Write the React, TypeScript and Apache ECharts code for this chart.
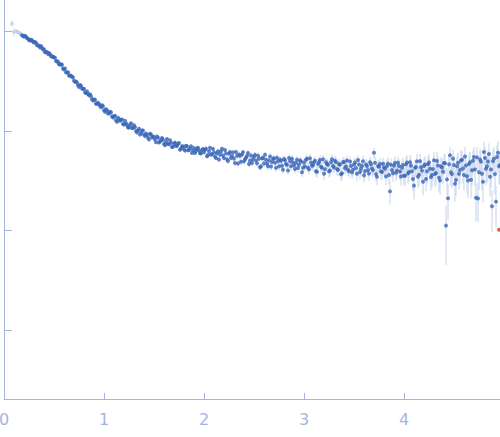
import React, { useEffect, useRef } from "react";
import * as echarts from "echarts";

// [q (nm^-1), I(q), relative error]
const excludedPoints: number[][] = [
  [0.08, 1.19, 0.07], [0.1, 0.98, 0.1], [0.12, 1.0, 0.02], [0.13, 0.99, 0.015],
  [0.14, 0.975, 0.01], [0.15, 0.965, 0.01], [0.16, 0.95, 0.01], [0.17, 0.93, 0.008],
];

const lowQ: number[][] = [
  [0.18, 0.912, 0.005], [0.2, 0.882, 0.005], [0.22, 0.88, 0.005], [0.24, 0.841, 0.005],
  [0.26, 0.806, 0.005], [0.28, 0.812, 0.005], [0.3, 0.768, 0.006], [0.32, 0.765, 0.006],
  [0.34, 0.724, 0.006], [0.36, 0.686, 0.006], [0.38, 0.683, 0.006], [0.4, 0.659, 0.007],
  [0.42, 0.618, 0.007], [0.44, 0.591, 0.007], [0.46, 0.588, 0.007], [0.48, 0.562, 0.008],
  [0.5, 0.548, 0.008], [0.52, 0.503, 0.008], [0.54, 0.495, 0.008], [0.56, 0.463, 0.009],
  [0.58, 0.46, 0.009], [0.6, 0.413, 0.009], [0.62, 0.386, 0.01], [0.64, 0.388, 0.01],
  [0.66, 0.359, 0.01], [0.68, 0.349, 0.011], [0.7, 0.318, 0.011], [0.72, 0.312, 0.011],
  [0.74, 0.286, 0.012], [0.76, 0.288, 0.012], [0.78, 0.266, 0.012], [0.8, 0.265, 0.013],
  [0.82, 0.24, 0.013], [0.84, 0.234, 0.013], [0.86, 0.233, 0.014], [0.88, 0.208, 0.014],
  [0.9, 0.206, 0.014], [0.92, 0.187, 0.015], [0.94, 0.192, 0.015], [0.96, 0.178, 0.015],
  [0.98, 0.181, 0.016], [1.0, 0.161, 0.016],
];

const lowQb: number[][] = [
  [0.19, 0.892, 0.005], [0.21, 0.899, 0.005], [0.23, 0.856, 0.005], [0.25, 0.815, 0.005],
  [0.27, 0.821, 0.005], [0.29, 0.782, 0.005], [0.31, 0.778, 0.006], [0.33, 0.722, 0.006],
  [0.35, 0.712, 0.006], [0.37, 0.709, 0.006], [0.39, 0.654, 0.006], [0.41, 0.616, 0.007],
  [0.43, 0.619, 0.007], [0.45, 0.604, 0.007], [0.47, 0.561, 0.007], [0.49, 0.549, 0.008],
  [0.51, 0.541, 0.008], [0.53, 0.496, 0.008], [0.55, 0.465, 0.008], [0.57, 0.466, 0.009],
  [0.59, 0.423, 0.009], [0.61, 0.423, 0.009], [0.63, 0.385, 0.01], [0.65, 0.358, 0.01],
  [0.67, 0.356, 0.01], [0.69, 0.344, 0.011], [0.71, 0.31, 0.011], [0.73, 0.305, 0.011],
  [0.75, 0.276, 0.012], [0.77, 0.283, 0.012], [0.79, 0.263, 0.012], [0.81, 0.243, 0.013],
  [0.83, 0.249, 0.013], [0.85, 0.227, 0.013], [0.87, 0.223, 0.014], [0.89, 0.201, 0.014],
  [0.91, 0.205, 0.014], [0.93, 0.187, 0.015], [0.95, 0.186, 0.015], [0.97, 0.172, 0.015],
  [0.99, 0.177, 0.016],
];

const midQ1: number[][] = [
  [1.02, 0.165, 0.018], [1.04, 0.149, 0.018], [1.06, 0.155, 0.019], [1.08, 0.14, 0.019],
  [1.1, 0.139, 0.02], [1.12, 0.128, 0.02], [1.14, 0.135, 0.021], [1.16, 0.126, 0.021],
  [1.18, 0.13, 0.022], [1.2, 0.116, 0.022], [1.22, 0.119, 0.023], [1.24, 0.108, 0.024],
  [1.26, 0.115, 0.024], [1.28, 0.107, 0.025], [1.3, 0.114, 0.025], [1.32, 0.0998, 0.026],
  [1.34, 0.101, 0.026], [1.36, 0.0916, 0.027], [1.38, 0.101, 0.027], [1.4, 0.0914, 0.028],
  [1.42, 0.0942, 0.028], [1.44, 0.0853, 0.029], [1.46, 0.0935, 0.029], [1.48, 0.0857, 0.03],
  [1.5, 0.0868, 0.03], [1.52, 0.0769, 0.031], [1.54, 0.0854, 0.031], [1.56, 0.0782, 0.032],
  [1.58, 0.0846, 0.032], [1.6, 0.0737, 0.033], [1.62, 0.0774, 0.034], [1.64, 0.074, 0.034],
  [1.66, 0.0805, 0.035], [1.68, 0.069, 0.035], [1.7, 0.0746, 0.036], [1.72, 0.0707, 0.037],
  [1.74, 0.074, 0.037], [1.76, 0.0646, 0.038], [1.78, 0.07, 0.039], [1.8, 0.0656, 0.039],
  [1.82, 0.071, 0.04], [1.84, 0.0637, 0.041], [1.86, 0.0665, 0.041], [1.88, 0.06, 0.042],
  [1.9, 0.0672, 0.043], [1.92, 0.0627, 0.043], [1.94, 0.0678, 0.044], [1.96, 0.0597, 0.045],
  [1.98, 0.0642, 0.045], [2.0, 0.0611, 0.046],
];

const midQ1b: number[][] = [
  [1.01, 0.155, 0.018], [1.03, 0.161, 0.018], [1.05, 0.15, 0.019], [1.07, 0.154, 0.019],
  [1.09, 0.136, 0.02], [1.11, 0.142, 0.02], [1.13, 0.123, 0.021], [1.15, 0.13, 0.021],
  [1.17, 0.129, 0.022], [1.19, 0.117, 0.022], [1.21, 0.126, 0.023], [1.23, 0.114, 0.024],
  [1.25, 0.108, 0.024], [1.27, 0.119, 0.025], [1.29, 0.107, 0.025], [1.31, 0.109, 0.026],
  [1.33, 0.0964, 0.026], [1.35, 0.105, 0.027], [1.37, 0.0953, 0.027], [1.39, 0.101, 0.028],
  [1.41, 0.0887, 0.028], [1.43, 0.0915, 0.029], [1.45, 0.0819, 0.029], [1.47, 0.0918, 0.03],
  [1.49, 0.0875, 0.03], [1.51, 0.0818, 0.031], [1.53, 0.0878, 0.031], [1.55, 0.0764, 0.032],
  [1.57, 0.0806, 0.032], [1.59, 0.0814, 0.033], [1.61, 0.0717, 0.034], [1.63, 0.0828, 0.034],
  [1.65, 0.0735, 0.035], [1.67, 0.0761, 0.035], [1.69, 0.0693, 0.036], [1.71, 0.0762, 0.037],
  [1.73, 0.0703, 0.037], [1.75, 0.0756, 0.038], [1.77, 0.0662, 0.039], [1.79, 0.0695, 0.039],
  [1.81, 0.0633, 0.04], [1.83, 0.07, 0.041], [1.85, 0.0641, 0.041], [1.87, 0.0701, 0.042],
  [1.89, 0.0636, 0.043], [1.91, 0.0598, 0.043], [1.93, 0.0662, 0.044], [1.95, 0.0637, 0.045],
  [1.97, 0.0594, 0.045], [1.99, 0.0657, 0.046],
];

const midQ2: number[][] = [
  [2.02, 0.0662, 0.05], [2.04, 0.0572, 0.052], [2.06, 0.0676, 0.05], [2.08, 0.0582, 0.054],
  [2.1, 0.0608, 0.053], [2.12, 0.0533, 0.058], [2.14, 0.0623, 0.055], [2.16, 0.0577, 0.057],
  [2.18, 0.066, 0.054], [2.2, 0.0535, 0.06], [2.22, 0.0594, 0.058], [2.24, 0.0499, 0.064],
  [2.26, 0.0614, 0.059], [2.28, 0.056, 0.062], [2.3, 0.0528, 0.065], [2.32, 0.0613, 0.061],
  [2.34, 0.0471, 0.07], [2.36, 0.0561, 0.065], [2.38, 0.0579, 0.064], [2.4, 0.0494, 0.07],
  [2.42, 0.0538, 0.068], [2.44, 0.0599, 0.065], [2.46, 0.0505, 0.072], [2.48, 0.0476, 0.075],
  [2.5, 0.055, 0.07], [2.52, 0.0505, 0.075], [2.54, 0.0563, 0.071], [2.56, 0.0432, 0.082],
  [2.58, 0.053, 0.075], [2.6, 0.0471, 0.08], [2.62, 0.0514, 0.078], [2.64, 0.0442, 0.085],
  [2.66, 0.0553, 0.077], [2.68, 0.0487, 0.082], [2.7, 0.0529, 0.08], [2.72, 0.0425, 0.09],
  [2.74, 0.0496, 0.085], [2.76, 0.0512, 0.084], [2.78, 0.0447, 0.09], [2.8, 0.0522, 0.085],
  [2.82, 0.0464, 0.09], [2.84, 0.0401, 0.098], [2.86, 0.0494, 0.09], [2.88, 0.0526, 0.088],
  [2.9, 0.0449, 0.095], [2.92, 0.0477, 0.093], [2.94, 0.0424, 0.1], [2.96, 0.0503, 0.092],
  [2.98, 0.0385, 0.105], [3.0, 0.0482, 0.095],
];

const midQ2b: number[][] = [
  [2.01, 0.0645, 0.05], [2.03, 0.0556, 0.053], [2.05, 0.0624, 0.051], [2.07, 0.0578, 0.054],
  [2.09, 0.0658, 0.052], [2.11, 0.0552, 0.057], [2.13, 0.0596, 0.055], [2.15, 0.0515, 0.06],
  [2.17, 0.0622, 0.056], [2.19, 0.0565, 0.059], [2.21, 0.0642, 0.056], [2.23, 0.0518, 0.063],
  [2.25, 0.0588, 0.06], [2.27, 0.0533, 0.063], [2.29, 0.0608, 0.06], [2.31, 0.0476, 0.069],
  [2.33, 0.0561, 0.064], [2.35, 0.0579, 0.064], [2.37, 0.0489, 0.07], [2.39, 0.0609, 0.064],
  [2.41, 0.0519, 0.07], [2.43, 0.0558, 0.068], [2.45, 0.0465, 0.076], [2.47, 0.0566, 0.07],
  [2.49, 0.0516, 0.074], [2.51, 0.0574, 0.071], [2.53, 0.0472, 0.078], [2.55, 0.0525, 0.075],
  [2.57, 0.044, 0.083], [2.59, 0.0533, 0.076], [2.61, 0.0575, 0.074], [2.63, 0.0468, 0.082],
  [2.65, 0.0505, 0.08], [2.67, 0.0439, 0.087], [2.69, 0.0525, 0.081], [2.71, 0.0479, 0.085],
  [2.73, 0.0536, 0.081], [2.75, 0.044, 0.09], [2.77, 0.0501, 0.086], [2.79, 0.0408, 0.096],
  [2.81, 0.0507, 0.087], [2.83, 0.0458, 0.092], [2.85, 0.0533, 0.087], [2.87, 0.0441, 0.096],
  [2.89, 0.0482, 0.093], [2.91, 0.0415, 0.1], [2.93, 0.0513, 0.092], [2.95, 0.0456, 0.097],
  [2.97, 0.0492, 0.095], [2.99, 0.0426, 0.102],
];

const highQ1: number[][] = [
  [3.02, 0.0512, 0.1], [3.04, 0.0427, 0.11], [3.06, 0.0531, 0.1], [3.08, 0.0447, 0.11],
  [3.1, 0.0483, 0.105], [3.12, 0.0394, 0.12], [3.14, 0.0466, 0.11], [3.16, 0.0511, 0.105],
  [3.18, 0.0427, 0.115], [3.2, 0.0371, 0.13], [3.22, 0.0484, 0.11], [3.24, 0.0456, 0.115],
  [3.26, 0.04, 0.125], [3.28, 0.052, 0.11], [3.3, 0.0429, 0.12], [3.32, 0.0486, 0.115],
  [3.34, 0.0404, 0.13], [3.36, 0.0456, 0.12], [3.38, 0.0376, 0.14], [3.4, 0.0488, 0.12],
  [3.42, 0.0439, 0.13], [3.44, 0.0407, 0.135], [3.46, 0.0493, 0.12], [3.48, 0.0383, 0.145],
  [3.5, 0.046, 0.13], [3.52, 0.0423, 0.14], [3.54, 0.0509, 0.125], [3.56, 0.0387, 0.15],
  [3.58, 0.0445, 0.14], [3.6, 0.0359, 0.16], [3.62, 0.046, 0.14], [3.64, 0.0405, 0.15],
  [3.66, 0.0485, 0.14], [3.68, 0.042, 0.15], [3.7, 0.0602, 0.12], [3.72, 0.0368, 0.165],
  [3.74, 0.0443, 0.15], [3.76, 0.0464, 0.15], [3.78, 0.0387, 0.165], [3.8, 0.0428, 0.16],
  [3.82, 0.0349, 0.18], [3.84, 0.0469, 0.155], [3.86, 0.0247, 0.26], [3.88, 0.0405, 0.165],
  [3.9, 0.0446, 0.16], [3.92, 0.0379, 0.175], [3.94, 0.0478, 0.16], [3.96, 0.039, 0.175],
  [3.98, 0.0426, 0.17], [4.0, 0.0355, 0.19],
];

const highQ1b: number[][] = [
  [3.01, 0.0438, 0.105], [3.03, 0.0524, 0.1], [3.05, 0.0412, 0.115], [3.07, 0.048, 0.105],
  [3.09, 0.0451, 0.11], [3.11, 0.05, 0.105], [3.13, 0.0389, 0.125], [3.15, 0.0483, 0.11],
  [3.17, 0.0437, 0.12], [3.19, 0.0518, 0.11], [3.21, 0.0411, 0.125], [3.23, 0.0465, 0.12],
  [3.25, 0.0392, 0.13], [3.27, 0.0485, 0.12], [3.29, 0.0443, 0.125], [3.31, 0.05, 0.115],
  [3.33, 0.0414, 0.13], [3.35, 0.0466, 0.125], [3.37, 0.0367, 0.145], [3.39, 0.0485, 0.125],
  [3.41, 0.0422, 0.135], [3.43, 0.0504, 0.125], [3.45, 0.0393, 0.145], [3.47, 0.0445, 0.135],
  [3.49, 0.0408, 0.145], [3.51, 0.0481, 0.135], [3.53, 0.0372, 0.155], [3.55, 0.046, 0.14],
  [3.57, 0.0416, 0.15], [3.59, 0.0496, 0.14], [3.61, 0.0393, 0.16], [3.63, 0.0443, 0.15],
  [3.65, 0.0374, 0.165], [3.67, 0.0463, 0.15], [3.69, 0.0403, 0.16], [3.71, 0.0478, 0.15],
  [3.73, 0.0347, 0.175], [3.75, 0.0435, 0.16], [3.77, 0.0392, 0.17], [3.79, 0.0467, 0.155],
  [3.81, 0.0416, 0.165], [3.83, 0.0444, 0.16], [3.85, 0.036, 0.18], [3.87, 0.0456, 0.16],
  [3.89, 0.0375, 0.18], [3.91, 0.0475, 0.165], [3.93, 0.0399, 0.175], [3.95, 0.0444, 0.17],
  [3.97, 0.0349, 0.19], [3.99, 0.0455, 0.17],
];

const highQ2: number[][] = [
  [4.02, 0.0461, 0.18], [4.04, 0.0374, 0.21], [4.06, 0.0485, 0.18], [4.08, 0.0394, 0.2],
  [4.1, 0.0282, 0.27], [4.12, 0.0434, 0.2], [4.14, 0.0347, 0.23], [4.16, 0.0497, 0.19],
  [4.18, 0.0399, 0.22], [4.2, 0.0443, 0.21], [4.22, 0.0329, 0.25], [4.24, 0.0462, 0.21],
  [4.26, 0.0417, 0.23], [4.28, 0.036, 0.25], [4.3, 0.0506, 0.21], [4.32, 0.0378, 0.25],
  [4.34, 0.0448, 0.23], [4.36, 0.0318, 0.28], [4.38, 0.0429, 0.24], [4.4, 0.0476, 0.23],
  [4.42, 0.0112, 0.6], [4.44, 0.0211, 0.4], [4.46, 0.057, 0.2], [4.48, 0.0368, 0.27],
  [4.5, 0.0454, 0.25], [4.52, 0.0321, 0.3], [4.54, 0.0479, 0.25], [4.56, 0.0405, 0.28],
  [4.58, 0.0514, 0.24], [4.6, 0.0361, 0.3], [4.62, 0.0449, 0.27], [4.64, 0.0317, 0.33],
  [4.66, 0.0484, 0.27], [4.68, 0.0403, 0.3], [4.7, 0.0546, 0.26], [4.72, 0.0213, 0.42],
  [4.74, 0.021, 0.42], [4.76, 0.0516, 0.28], [4.78, 0.0371, 0.33], [4.8, 0.0614, 0.26],
  [4.82, 0.0417, 0.32], [4.84, 0.0493, 0.3], [4.86, 0.0346, 0.36], [4.88, 0.0175, 0.45],
  [4.9, 0.0526, 0.3], [4.92, 0.0195, 0.45], [4.94, 0.0602, 0.3], [4.96, 0.0453, 0.35],
];

const highQ2b: number[][] = [
  [4.01, 0.0355, 0.21], [4.03, 0.0482, 0.18], [4.05, 0.0386, 0.2], [4.07, 0.0447, 0.19],
  [4.09, 0.0328, 0.24], [4.11, 0.0425, 0.2], [4.13, 0.0494, 0.19], [4.15, 0.0363, 0.23],
  [4.17, 0.0431, 0.21], [4.19, 0.0309, 0.27], [4.21, 0.0459, 0.21], [4.23, 0.0393, 0.24],
  [4.25, 0.0482, 0.21], [4.27, 0.0344, 0.27], [4.29, 0.0413, 0.24], [4.31, 0.0369, 0.26],
  [4.33, 0.0499, 0.22], [4.35, 0.0338, 0.28], [4.37, 0.0441, 0.24], [4.39, 0.0389, 0.26],
  [4.41, 0.0473, 0.24], [4.43, 0.0326, 0.3], [4.45, 0.0461, 0.25], [4.47, 0.0384, 0.28],
  [4.49, 0.0524, 0.24], [4.51, 0.0295, 0.34], [4.53, 0.044, 0.27], [4.55, 0.037, 0.3],
  [4.57, 0.0504, 0.26], [4.59, 0.042, 0.29], [4.61, 0.0552, 0.25], [4.63, 0.0351, 0.33],
  [4.65, 0.0465, 0.28], [4.67, 0.0323, 0.35], [4.69, 0.05, 0.28], [4.71, 0.041, 0.31],
  [4.73, 0.0542, 0.27], [4.75, 0.0384, 0.33], [4.77, 0.0491, 0.29], [4.79, 0.0308, 0.38],
  [4.81, 0.0534, 0.29], [4.83, 0.0441, 0.32], [4.85, 0.0587, 0.28], [4.87, 0.0409, 0.34],
  [4.89, 0.0496, 0.31], [4.91, 0.0368, 0.37], [4.93, 0.0547, 0.31], [4.95, 0.0442, 0.35],
];

const outlierPoints: number[][] = [[4.95, 0.0102, 0.0]];

const xTickValues = [0, 1, 2, 3, 4];

const AXIS_COLOR = "#a3b6e0";

function toErrorBars(points: number[][]) {
  return points.map((p) => [p[0], p[1] * (1 - p[2]), p[1] * (1 + p[2])]);
}

function errorSeries(points: number[][], color: string) {
  return {
    type: "custom",
    silent: true,
    z: 1,
    renderItem: (params: any, api: any) => {
      const x = api.value(0);
      const lo = api.value(1);
      const hi = api.value(2);
      const p1 = api.coord([x, hi]);
      const p2 = api.coord([x, lo]);
      return {
        type: "line",
        shape: { x1: p1[0], y1: p1[1], x2: p2[0], y2: p2[1] },
        style: { stroke: color, lineWidth: 1 },
      };
    },
    encode: { x: 0, y: [1, 2] },
    data: toErrorBars(points),
  };
}

export default function App() {
  const ref = useRef<HTMLDivElement>(null);
  useEffect(() => {
    if (!ref.current) return;
    const chart = echarts.init(ref.current, undefined, { renderer: "svg" });
    const mainPoints = [
      ...lowQ, ...lowQb, ...midQ1, ...midQ1b, ...midQ2, ...midQ2b,
      ...highQ1, ...highQ1b, ...highQ2, ...highQ2b,
    ].sort((a, b) => a[0] - b[0]);
    chart.setOption({
      animation: false,
      grid: {
        left: 4,
        right: 0,
        top: -68.5,
        bottom: 38,
        containLabel: false,
        outerBoundsMode: "none",
      },
      xAxis: {
        type: "value",
        min: 0,
        max: 4.96,
        interval: 1,
        axisLine: { show: true, lineStyle: { color: AXIS_COLOR, width: 1 } },
        axisTick: {
          show: true,
          inside: true,
          length: 6,
          customValues: xTickValues,
          lineStyle: { color: AXIS_COLOR },
        },
        axisLabel: {
          show: true,
          customValues: xTickValues,
          color: AXIS_COLOR,
          fontFamily: "DejaVu Sans",
          fontSize: 16,
          margin: 12,
        },
        splitLine: { show: false },
      },
      yAxis: {
        type: "log",
        logBase: 10,
        min: 0.000204,
        max: 10,
        axisLine: { show: true, lineStyle: { color: AXIS_COLOR, width: 1 } },
        axisTick: { show: true, inside: true, length: 8, lineStyle: { color: AXIS_COLOR } },
        axisLabel: { show: false },
        splitLine: { show: false },
      },
      series: [
        errorSeries(excludedPoints, "#d3def2"),
        errorSeries(mainPoints, "#c5d3ec"),
        {
          type: "scatter",
          symbol: "circle",
          symbolSize: 4,
          z: 2,
          itemStyle: { color: "#c0cfec" },
          data: excludedPoints.map((p) => [p[0], p[1]]),
        },
        {
          type: "scatter",
          symbol: "circle",
          symbolSize: 4,
          z: 3,
          itemStyle: { color: "#3a66b8" },
          data: mainPoints.map((p) => [p[0], p[1]]),
        },
        {
          type: "scatter",
          symbol: "circle",
          symbolSize: 4,
          z: 4,
          itemStyle: { color: "#d93a3a" },
          data: outlierPoints.map((p) => [p[0], p[1]]),
        },
      ],
    });
    return () => chart.dispose();
  }, []);
  return (
    <div
      ref={ref}
      style={{ position: "absolute", left: 0, top: 0, width: 500, height: 437 }}
    />
  );
}
